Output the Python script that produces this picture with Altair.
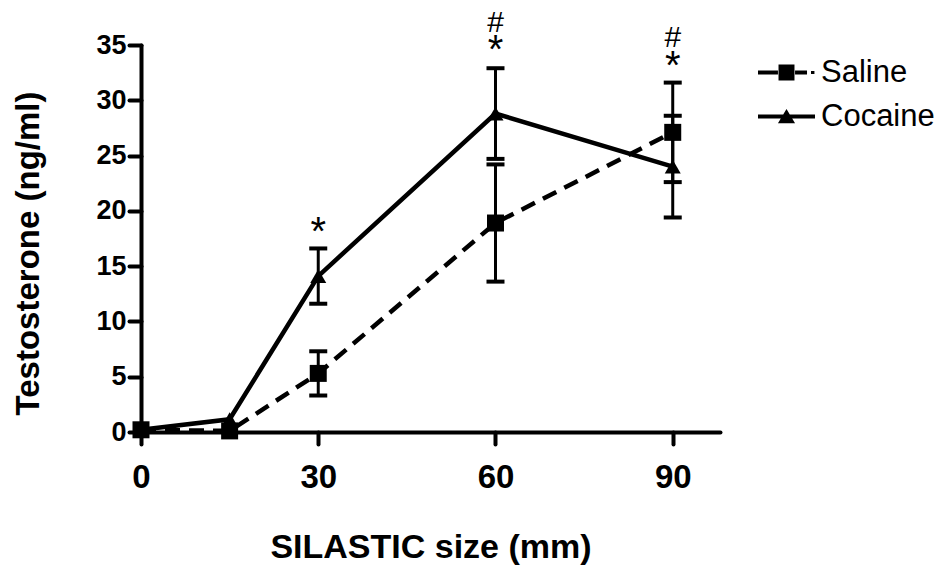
import altair as alt
import pandas as pd

# ---- data ----
sizes = [0, 15, 30, 60, 90]
saline_mean = [0.2, 0.1, 5.3, 18.9, 27.1]
saline_se = [None, None, 2.0, 5.3, 4.5]
cocaine_mean = [0.2, 1.15, 14.1, 28.8, 24.0]
cocaine_se = [None, None, 2.5, 4.1, 4.6]

star_x = [30, 60, 90]
star_y = [16.9, 33.4, 31.9]
hash_x = [60, 90]
hash_y = [36.2, 34.8]

series_names = ["Saline", "Cocaine"]

rows = []
for name, means, ses in [("Saline", saline_mean, saline_se), ("Cocaine", cocaine_mean, cocaine_se)]:
    for x, m, s in zip(sizes, means, ses):
        rows.append({
            "size": x, "series": name, "mean": m,
            "lo": (m - s) if s is not None else None,
            "hi": (m + s) if s is not None else None,
        })
df = pd.DataFrame(rows)
err = df.dropna(subset=["lo"])
stars = pd.DataFrame({"size": star_x, "y": star_y, "label": ["*"] * len(star_x)})
hashes = pd.DataFrame({"size": hash_x, "y": hash_y, "label": ["#"] * len(hash_x)})

FONT = "Liberation Sans"

xscale = alt.Scale(domain=[0, 98], nice=False, zero=False)
yscale = alt.Scale(domain=[0, 35], nice=False)

xax = alt.Axis(values=[0, 30, 60, 90], title="SILASTIC size (mm)", labelFontSize=33,
               labelPadding=17, titleFontSize=34, titlePadding=36, labelFlush=False)
yax = alt.Axis(values=[0, 5, 10, 15, 20, 25, 30, 35], title="Testosterone (ng/ml)",
               labelFontSize=27, labelPadding=3, titleFontSize=33,
               titleX=-113, titleY=208, titleAngle=270, titleAlign="center",
               titleBaseline="middle")

X = alt.X("size:Q", scale=xscale, axis=xax)
base = alt.Chart(df)

lines_sal = base.transform_filter(alt.datum.series == "Saline").mark_line(
    color="black", strokeWidth=4.5, strokeDash=[15, 9]
).encode(x=X, y=alt.Y("mean:Q", scale=yscale, axis=yax))

lines_coc = base.transform_filter(alt.datum.series == "Cocaine").mark_line(
    color="black", strokeWidth=4.5
).encode(x="size:Q", y="mean:Q")

ebase = alt.Chart(err)
err_rule = ebase.mark_rule(color="black", strokeWidth=3).encode(
    x="size:Q", y="lo:Q", y2="hi:Q")
cap_lo = ebase.mark_tick(color="black", orient="horizontal", size=18, thickness=4, opacity=1).encode(
    x="size:Q", y="lo:Q")
cap_hi = ebase.mark_tick(color="black", orient="horizontal", size=18, thickness=4, opacity=1).encode(
    x="size:Q", y="hi:Q")

pts_sal = base.transform_filter(alt.datum.series == "Saline").mark_point(
    shape="square", filled=True, color="black", opacity=1, size=289
).encode(x="size:Q", y="mean:Q")
pts_coc = base.transform_filter(alt.datum.series == "Cocaine").mark_point(
    shape="triangle-up", filled=True, color="black", opacity=1, size=256
).encode(x="size:Q", y="mean:Q")

star_layer = alt.Chart(stars).mark_text(
    font=FONT, fontSize=40, color="black", baseline="alphabetic", align="center"
).encode(x="size:Q", y="y:Q", text="label:N")
hash_layer = alt.Chart(hashes).mark_text(
    font=FONT, fontSize=30, color="black", baseline="alphabetic", align="center"
).encode(x="size:Q", y="y:Q", text="label:N")

saline_path = ("M-1,-0.07H-0.3V0.07H-1Z M-0.28,-0.28H0.28V0.28H-0.28Z "
               "M0.3,-0.07H0.72V0.07H0.3Z M0.86,-0.05H0.98V0.05H0.86Z")
cocaine_path = "M-1,-0.07H1V0.07H-1Z M-0.3,0.24L0,-0.26L0.3,0.24Z"

legend_layer = alt.Chart(pd.DataFrame({"series": series_names})).transform_filter(
    "false"
).mark_point(filled=True, color="black", opacity=1).encode(
    x="size:Q", y="mean:Q",
    shape=alt.Shape("series:N", scale=alt.Scale(domain=series_names, range=[saline_path, cocaine_path]),
                    legend=alt.Legend(title=None, orient="none", legendX=617, legendY=-1,
                                      symbolSize=3249, symbolFillColor="black", symbolStrokeWidth=0,
                                      symbolOpacity=1,
                                      labelFont=FONT, labelFontSize=31, labelFontWeight="normal",
                                      labelColor="black", labelOffset=6, rowPadding=-8)),
)

chart = alt.layer(
    lines_sal, lines_coc, err_rule, cap_lo, cap_hi, pts_sal, pts_coc, star_layer, hash_layer, legend_layer
).properties(
    width=579, height=387,
    padding={"left": 141, "top": 45, "right": 225, "bottom": 139},
    autosize=alt.AutoSizeParams(type="none"),
).configure_view(stroke=None).configure_axis(
    domainColor="black", domainWidth=4, domainCap="round",
    tickColor="black", tickWidth=4, tickSize=12, tickCap="round",
    grid=False, labelFont=FONT, labelFontWeight="bold", labelColor="black",
    titleFont=FONT, titleFontWeight="bold", titleColor="black",
)

chart.save("out.html", embed_options={"renderer": "svg", "actions": False})
